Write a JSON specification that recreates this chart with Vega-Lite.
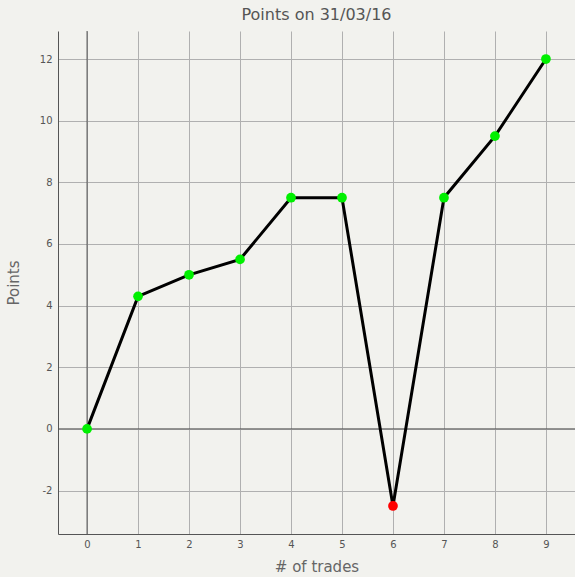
{
  "$schema": "https://vega.github.io/schema/vega-lite/v6.json",
  "width": 517,
  "height": 503,
  "autosize": {"type": "none"},
  "padding": {"left": 58, "top": 31, "right": 0, "bottom": 43},
  "background": "#f2f2ee",
  "config": {
    "view": {"stroke": null},
    "font": "DejaVu Sans",
    "axis": {
      "domainColor": "#555555",
      "domainWidth": 1,
      "gridColor": "#b0b0b0",
      "gridWidth": 1,
      "ticks": false,
      "labelColor": "#555555",
      "labelFont": "DejaVu Sans",
      "labelFontSize": 10,
      "titleColor": "#666666",
      "titleFont": "DejaVu Sans",
      "titleFontSize": 15,
      "titleFontWeight": "normal"
    }
  },
  "title": {
    "text": "Points on 31/03/16",
    "fontSize": 16,
    "font": "DejaVu Sans",
    "fontWeight": "normal",
    "color": "#555555",
    "anchor": "middle",
    "offset": 8
  },
  "datasets": {
    "pts": [
      {"trade": 0, "points": 0, "sign": "pos"},
      {"trade": 1, "points": 4.3, "sign": "pos"},
      {"trade": 2, "points": 5.0, "sign": "pos"},
      {"trade": 3, "points": 5.5, "sign": "pos"},
      {"trade": 4, "points": 7.5, "sign": "pos"},
      {"trade": 5, "points": 7.5, "sign": "pos"},
      {"trade": 6, "points": -2.5, "sign": "neg"},
      {"trade": 7, "points": 7.5, "sign": "pos"},
      {"trade": 8, "points": 9.5, "sign": "pos"},
      {"trade": 9, "points": 12, "sign": "pos"}
    ],
    "zero": [{"v": 0}]
  },
  "layer": [
    {
      "data": {"name": "zero"},
      "mark": {"type": "rule", "color": "#555555", "strokeWidth": 1},
      "encoding": {"x": {"field": "v", "type": "quantitative"}}
    },
    {
      "data": {"name": "zero"},
      "mark": {"type": "rule", "color": "#555555", "strokeWidth": 1},
      "encoding": {"y": {"field": "v", "type": "quantitative"}}
    },
    {
      "data": {"name": "pts"},
      "mark": {"type": "line", "color": "#000000", "strokeWidth": 3},
      "encoding": {
        "x": {
          "field": "trade", "type": "quantitative",
          "scale": {"domain": [-0.57, 9.57], "nice": false, "zero": false},
          "axis": {"values": [0,1,2,3,4,5,6,7,8,9], "title": "# of trades", "labelPadding": 5, "titlePadding": 10}
        },
        "y": {
          "field": "points", "type": "quantitative",
          "scale": {"domain": [-3.41, 12.91], "nice": false, "zero": false},
          "axis": {"values": [-2,0,2,4,6,8,10,12], "labelExpr": "'' + datum.value", "title": "Points", "labelPadding": 6, "titlePadding": 18}
        }
      }
    },
    {
      "data": {"name": "pts"},
      "mark": {"type": "circle", "size": 95, "opacity": 1},
      "encoding": {
        "x": {"field": "trade", "type": "quantitative"},
        "y": {"field": "points", "type": "quantitative"},
        "color": {
          "field": "sign", "type": "nominal",
          "scale": {"domain": ["pos", "neg"], "range": ["#00f000", "#ff0000"]},
          "legend": null
        }
      }
    }
  ]
}
